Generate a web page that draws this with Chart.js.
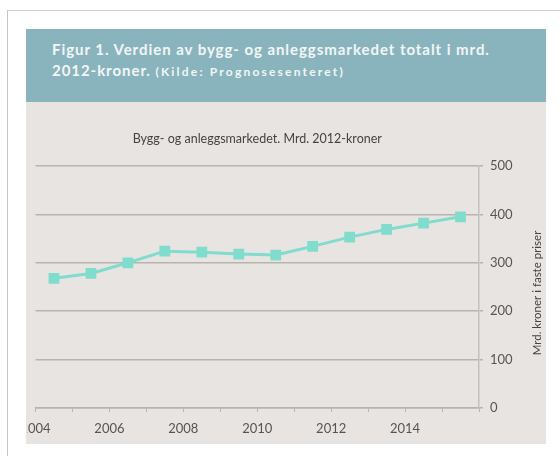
<!DOCTYPE html>
<html>
<head>
<meta charset="utf-8">
<script src="https://cdn.jsdelivr.net/npm/chart.js@4"></script>
<style>
  html, body { margin: 0; padding: 0; background: #fff; }
  body { width: 560px; height: 456px; position: relative; overflow: hidden; font-family: Lato, "Open Sans", sans-serif; }
  .frame { position: absolute; left: 7px; top: 10px; width: 560px; height: 460px; border-left: 1px solid #c4c4c4; border-top: 1px solid #cfcfcf; }
  .header { position: absolute; left: 26px; top: 29px; width: 520px; height: 73px; background: #89b4bd; }
  .header p { margin: 0; position: absolute; left: 26px; top: 10px; color: #f3f6f6; font-weight: 700; font-size: 15px; line-height: 21px; letter-spacing: 0.95px; }
  .header small { font-size: 12px; font-weight: 700; letter-spacing: 2.2px; }
  .panel { position: absolute; left: 26px; top: 102px; width: 520px; height: 342px; background: #e8e4e1; }
  canvas { position: absolute; left: 1px; top: 0; }
</style>
</head>
<body>
<div class="frame"></div>
<div class="header">
  <p>Figur 1. Verdien av bygg- og anleggsmarkedet totalt i mrd.<br>2012-kroner. <small>(Kilde: Prognosesenteret)</small></p>
</div>
<div class="panel">
  <canvas id="chart" width="519" height="342"></canvas>
</div>
<script>
// years (value plotted mid-year) and market value, bn 2012-NOK
const years = [2004, 2005, 2006, 2007, 2008, 2009, 2010, 2011, 2012, 2013, 2014, 2015];
const values = [268, 278, 300, 324, 322, 318, 316, 334, 353, 369, 382, 395];
const yTicks = [0, 100, 200, 300, 400, 500];
const xLabels = [2004, 2006, 2008, 2010, 2012, 2014];

const chartTitle = 'Bygg- og anleggsmarkedet. Mrd. 2012-kroner';
const yTitle = 'Mrd. kroner i faste priser';

const gridColor = '#b7b3af';
const textColor = '#555';

// right-hand axis title reads bottom-to-top, so draw it ourselves
const yTitlePlugin = {
  id: 'yTitle',
  afterDraw(chart) {
    const { ctx, scales } = chart;
    const y = scales.y;
    ctx.save();
    ctx.translate(510, (y.top + y.bottom) / 2 + 6);
    ctx.rotate(-Math.PI / 2);
    ctx.font = '11.5px Lato';
    ctx.fillStyle = '#444';
    ctx.textAlign = 'center';
    ctx.textBaseline = 'middle';
    ctx.fillText(yTitle, 0, 0);
    ctx.restore();
  }
};

const ctx = document.getElementById('chart').getContext('2d');
new Chart(ctx, {
  type: 'line',
  data: {
    datasets: [{
      data: years.map((yr, i) => ({ x: yr + 0.5, y: values[i] })),
      borderColor: '#80dccd',
      backgroundColor: '#80dccd',
      borderWidth: 3,
      pointStyle: 'rect',
      pointRadius: 5.5,
      pointHoverRadius: 5.5,
      fill: false,
      tension: 0
    }]
  },
  options: {
    responsive: false,
    animation: false,
    layout: { padding: { left: 7, right: 0, top: 0, bottom: 0 } },
    plugins: {
      legend: { display: false },
      tooltip: { enabled: false },
      title: {
        display: true,
        text: chartTitle,
        fullSize: false,
        color: '#444',
        font: { family: 'Lato', size: 12.5, weight: 'normal' },
        padding: { top: 29, bottom: 20 }
      }
    },
    scales: {
      x: {
        type: 'linear',
        min: 2004,
        max: 2016,
        ticks: {
          stepSize: 1,
          autoSkip: false,
          maxRotation: 0,
          color: textColor,
          font: { family: 'Lato', size: 13 },
          padding: 9,
          callback: v => xLabels.includes(v) ? String(v) : ''
        },
        grid: { drawOnChartArea: false, drawTicks: true, tickLength: 4, color: gridColor },
        border: { display: true, color: gridColor, width: 1.5 },
        afterFit: s => { s.height = 36; s.paddingLeft = 0; s.paddingRight = 0; }
      },
      y: {
        position: 'right',
        min: 0,
        max: 500,
        afterBuildTicks: s => { s.ticks = yTicks.map(v => ({ value: v })); },
        ticks: {
          color: textColor,
          font: { family: 'Lato', size: 13 },
          padding: 7
        },
        grid: { color: gridColor, lineWidth: 1.5, tickLength: 4 },
        border: { display: true, color: '#c4c0bc', width: 1.5 },
        afterFit: s => { s.width = 67; }
      }
    }
  },
  plugins: [yTitlePlugin]
});
</script>
</body>
</html>
